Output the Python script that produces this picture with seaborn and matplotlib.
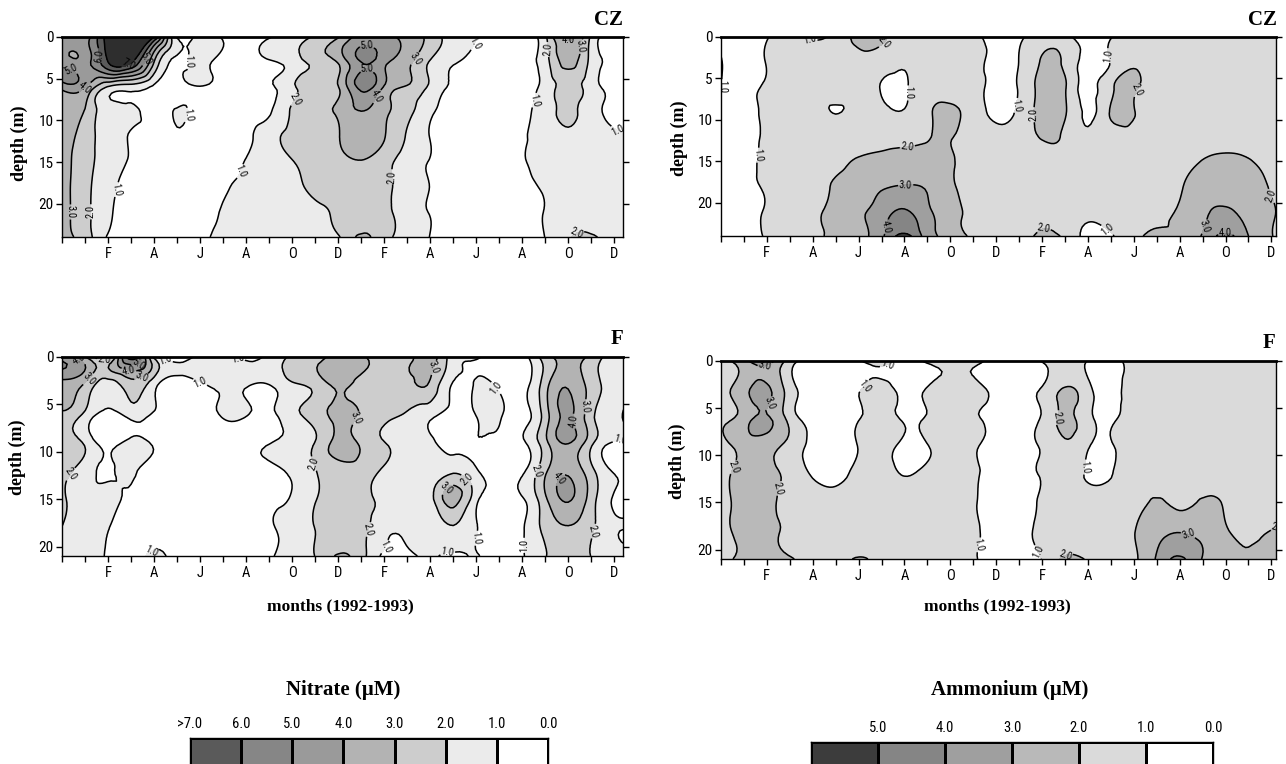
import numpy as np
import matplotlib
matplotlib.use("Agg")
import matplotlib.pyplot as plt
import matplotlib.tri as mtri
from matplotlib.colors import ListedColormap
from matplotlib import font_manager as fm
import seaborn as sns

sns.set_style("ticks")


def pick(fams):
    for f in fams:
        try:
            fm.findfont(fm.FontProperties(family=f), fallback_to_default=False)
            return f
        except Exception:
            pass
    return "DejaVu Sans"


SANS = pick(["Liberation Sans Narrow", "DejaVu Sans Condensed", "Roboto Condensed", "Liberation Sans"])
SERIF = pick(["Liberation Serif", "DejaVu Serif"])
plt.rcParams["font.family"] = [SANS, "DejaVu Sans"]
for key in ["text.color", "axes.labelcolor", "xtick.color", "ytick.color", "axes.edgecolor"]:
    plt.rcParams[key] = "black"

# ---------------- data ----------------
# month index: 0 = Dec 1991, 2 = Feb 1992 ... 24 = Dec 1993
month_pos = [0, 1, 2, 3, 4, 5, 6, 7, 8, 9, 10, 11, 12, 13, 14, 15, 16, 17, 18, 19, 20, 21, 22, 23, 24, 24.4]
month_labels = ["F", "A", "J", "A", "O", "D", "F", "A", "J", "A", "O", "D"]
depth_cz = [0, 3, 6, 9, 12, 15, 18, 21, 24]
depth_f = [0, 3, 6, 9, 12, 15, 18, 21]

nitrate_cz = [
    [4.5, 4.5, 7.6, 8.0, 7.0, 0.9, 1.4, 0.9, 0.5, 0.95, 1.5, 2.15, 2.9, 4.4, 4.3, 3.6, 2.7, 1.4, 1.05, 0.5, 0.6, 1.8, 4.5, 1.8, 0.7, 0.6],
    [4.5, 4.5, 7.0, 7.2, 3.0, 0.8, 1.2, 0.6, 0.5, 0.9, 1.4, 2.3, 3.1, 5.0, 4.3, 3.3, 1.9, 1.1, 0.6, 0.5, 0.6, 1.6, 3.4, 1.7, 0.7, 0.6],
    [4.4, 4.05, 1.9, 1.5, 0.8, 0.5, 0.95, 0.5, 0.5, 0.8, 1.8, 2.5, 2.95, 5.3, 3.9, 2.9, 1.8, 0.8, 0.5, 0.5, 0.6, 1.4, 2.3, 1.5, 0.7, 0.6],
    [3.9, 2.9, 1.5, 1.3, 0.6, 1.1, 0.5, 0.5, 0.6, 0.9, 2.15, 2.6, 3.2, 3.95, 3.2, 2.3, 1.2, 0.6, 0.5, 0.5, 0.8, 1.5, 2.2, 1.4, 0.8, 0.7],
    [3.6, 2.5, 1.5, 0.9, 0.5, 0.8, 0.5, 0.5, 0.8, 1.6, 2.3, 2.6, 2.95, 3.5, 3.05, 1.9, 0.98, 0.6, 0.5, 0.6, 0.9, 1.4, 1.7, 1.5, 1.1, 1.05],
    [3.4, 2.4, 1.5, 0.9, 0.5, 0.5, 0.5, 0.6, 1.05, 1.5, 1.95, 2.5, 2.8, 2.95, 2.4, 1.5, 0.95, 0.5, 0.5, 0.5, 0.9, 1.3, 1.5, 1.4, 1.3, 1.2],
    [3.4, 2.3, 1.3, 0.7, 0.5, 0.5, 0.6, 0.9, 1.2, 1.5, 1.8, 2.2, 2.5, 2.6, 2.2, 1.6, 0.98, 0.5, 0.5, 0.5, 0.8, 1.1, 1.4, 1.4, 1.3, 1.2],
    [3.4, 2.3, 1.2, 0.5, 0.5, 0.5, 0.75, 1.05, 1.3, 1.4, 1.6, 1.8, 2.2, 2.6, 2.3, 1.5, 0.95, 0.5, 0.5, 0.5, 0.6, 1.05, 1.6, 1.5, 1.3, 1.2],
    [3.4, 2.5, 0.9, 0.5, 0.5, 0.5, 0.8, 1.2, 1.3, 1.2, 1.4, 1.5, 1.9, 3.2, 2.3, 1.6, 0.98, 0.5, 0.5, 0.5, 0.6, 1.02, 1.9, 2.2, 1.3, 1.2],
]

ammonium_cz = [
    [0.6, 0.6, 0.95, 1.3, 0.85, 1.3, 2.3, 2.2, 1.4, 1.4, 1.4, 1.2, 0.6, 0.8, 1.6, 1.3, 0.6, 0.95, 1.4, 1.5, 1.4, 1.5, 1.5, 1.5, 1.5, 1.5],
    [1.05, 0.6, 1.05, 1.5, 1.4, 1.5, 1.7, 1.5, 1.1, 1.5, 1.5, 1.3, 0.7, 1.02, 2.1, 1.8, 0.6, 1.05, 1.9, 1.5, 1.5, 1.5, 1.5, 1.5, 1.5, 1.5],
    [1.05, 0.6, 1.2, 1.5, 1.5, 1.5, 1.5, 0.95, 0.9, 1.5, 1.5, 1.3, 0.7, 1.1, 2.4, 2.1, 0.7, 1.8, 2.2, 1.5, 1.5, 1.5, 1.5, 1.5, 1.5, 1.5],
    [0.6, 0.6, 1.2, 1.5, 1.5, 0.95, 1.5, 1.3, 1.05, 1.8, 2.2, 1.5, 0.8, 1.2, 2.4, 2.1, 0.8, 2.1, 2.05, 1.5, 1.5, 1.5, 1.5, 1.5, 1.5, 1.5],
    [0.6, 0.6, 1.2, 1.5, 1.5, 1.6, 1.6, 1.6, 1.7, 1.95, 2.05, 1.6, 1.3, 1.4, 2.1, 1.8, 1.2, 1.6, 1.5, 1.5, 1.5, 1.5, 1.5, 1.5, 1.5, 1.5],
    [0.6, 0.6, 1.3, 1.5, 1.6, 1.8, 2.1, 2.3, 2.4, 2.3, 2.1, 1.6, 1.5, 1.5, 1.5, 1.5, 1.5, 1.5, 1.5, 1.5, 1.6, 2.05, 2.3, 2.1, 1.6, 1.5],
    [0.6, 0.6, 1.2, 1.5, 1.7, 2.1, 2.5, 2.9, 3.05, 2.9, 2.2, 1.6, 1.5, 1.5, 1.5, 1.5, 1.5, 1.5, 1.5, 1.6, 1.9, 2.5, 2.7, 2.5, 1.9, 1.7],
    [0.6, 0.6, 1.1, 1.5, 1.8, 2.3, 2.8, 3.5, 4.1, 3.2, 2.4, 1.7, 1.5, 1.5, 1.8, 1.5, 1.2, 1.5, 1.6, 1.8, 2.1, 2.8, 3.1, 2.7, 2.1, 1.9],
    [0.6, 0.6, 1.1, 1.5, 1.8, 2.2, 2.6, 3.8, 5.3, 3.5, 2.6, 1.8, 1.2, 1.5, 2.2, 1.8, 0.7, 0.9, 1.7, 2.3, 2.05, 3.1, 4.3, 3.0, 2.05, 1.7],
]

nitrate_f = [
    [4.5, 3.1, 1.5, 6.5, 1.8, 0.3, 1.3, 1.2, 0.6, 1.3, 2.2, 2.5, 3.3, 3.1, 2.6, 2.8, 3.4, 1.4, 1.1, 0.6, 0.6, 2.5, 3.5, 2.7, 1.5, 1.4],
    [3.5, 2.8, 1.4, 2.5, 1.3, 0.4, 0.8, 1.3, 1.1, 0.95, 1.8, 2.3, 3.2, 2.6, 2.5, 2.6, 2.8, 0.9, 1.1, 0.8, 0.6, 2.6, 3.9, 2.6, 1.5, 1.3],
    [2.8, 1.8, 0.7, 1.4, 0.9, 0.5, 0.5, 1.15, 1.1, 0.8, 1.7, 2.5, 3.3, 2.9, 2.3, 1.9, 1.3, 0.6, 1.05, 1.15, 0.6, 2.5, 4.2, 2.3, 1.3, 0.95],
    [2.5, 1.8, 0.6, 1.3, 0.8, 0.5, 0.5, 0.5, 0.5, 0.9, 1.4, 2.02, 3.3, 2.8, 2.02, 1.6, 1.2, 0.6, 0.95, 0.5, 0.8, 2.7, 4.1, 2.3, 0.95, 0.8],
    [2.3, 1.5, 0.85, 1.2, 0.5, 0.5, 0.5, 0.5, 0.5, 0.7, 1.2, 1.95, 2.6, 2.5, 1.9, 1.5, 1.4, 1.8, 1.1, 0.5, 0.8, 2.8, 3.8, 2.3, 0.9, 0.8],
    [2.2, 1.4, 1.2, 0.8, 0.5, 0.5, 0.5, 0.5, 0.5, 0.8, 1.1, 1.95, 2.4, 2.3, 1.8, 1.3, 1.6, 3.4, 1.3, 0.5, 0.9, 2.8, 4.1, 2.5, 0.9, 0.8],
    [1.98, 1.3, 1.05, 0.5, 0.7, 0.5, 0.5, 0.5, 0.5, 0.9, 1.3, 2.02, 2.4, 2.3, 1.3, 1.2, 1.4, 1.9, 1.05, 0.5, 0.9, 2.3, 2.9, 2.2, 1.1, 1.02],
    [1.8, 1.3, 0.95, 0.5, 1.3, 0.5, 0.5, 0.5, 0.5, 0.9, 1.4, 2.02, 3.1, 2.4, 0.8, 0.8, 1.1, 0.8, 1.05, 0.5, 0.9, 1.95, 2.7, 1.98, 1.3, 1.2],
]

ammonium_f = [
    [1.5, 2.7, 3.4, 1.5, 0.7, 0.9, 0.9, 1.5, 0.6, 1.2, 1.5, 1.4, 0.6, 0.6, 1.05, 1.5, 0.95, 0.6, 1.3, 1.4, 1.5, 1.5, 1.5, 1.5, 1.5, 1.5],
    [1.5, 2.7, 3.2, 1.5, 0.6, 0.6, 0.9, 1.5, 0.6, 1.1, 1.5, 1.5, 0.6, 0.6, 1.1, 2.1, 1.3, 0.6, 1.5, 1.5, 1.5, 1.5, 1.5, 1.5, 1.5, 1.5],
    [1.5, 2.5, 3.1, 1.6, 0.6, 0.5, 0.9, 1.5, 0.8, 1.1, 1.5, 1.2, 0.6, 0.6, 1.1, 2.2, 1.3, 0.8, 1.5, 1.5, 1.5, 1.5, 1.5, 1.5, 1.5, 1.5],
    [1.5, 2.4, 2.4, 1.7, 0.7, 0.5, 1.05, 1.5, 0.7, 0.95, 1.5, 1.2, 0.6, 0.7, 1.1, 1.8, 1.1, 0.9, 1.5, 1.5, 1.5, 1.5, 1.5, 1.5, 1.5, 1.5],
    [1.5, 2.4, 2.3, 1.7, 0.9, 0.7, 1.3, 1.5, 0.95, 1.3, 1.5, 1.2, 0.6, 0.7, 1.1, 1.5, 0.9, 0.95, 1.5, 1.6, 1.6, 1.5, 1.5, 1.5, 1.5, 1.5],
    [1.5, 2.4, 2.3, 1.6, 1.4, 1.4, 1.5, 1.5, 1.5, 1.5, 1.5, 1.1, 0.6, 0.7, 1.1, 1.5, 1.5, 1.5, 1.6, 2.1, 1.8, 2.1, 1.9, 1.5, 1.5, 1.5],
    [1.5, 2.4, 2.3, 1.8, 1.5, 1.5, 1.5, 1.5, 1.5, 1.5, 1.5, 1.2, 0.6, 0.7, 1.2, 1.5, 1.5, 1.5, 1.95, 2.6, 2.9, 2.6, 2.1, 1.7, 2.02, 2.1],
    [1.5, 2.3, 2.4, 2.1, 1.5, 1.5, 2.1, 1.7, 1.5, 1.5, 1.5, 1.1, 0.6, 0.7, 1.02, 2.2, 1.9, 1.2, 1.8, 3.1, 4.2, 2.95, 2.1, 2.05, 2.4, 2.4],
]

nitrate_levels = [-10, 1, 2, 3, 4, 5, 6, 7, 50]
nitrate_colors = ["#ffffff", "#ebebeb", "#cdcdcd", "#b3b3b3", "#9a9a9a", "#868686", "#5a5a5a", "#2e2e2e"]
ammonium_levels = [-10, 1, 2, 3, 4, 5, 50]
ammonium_colors = ["#ffffff", "#dadada", "#b9b9b9", "#9f9f9f", "#858585", "#3c3c3c"]
nitrate_legend_labels = [">7.0", "6.0", "5.0", "4.0", "3.0", "2.0", "1.0", "0.0"]
ammonium_legend_labels = ["", "5.0", "4.0", "3.0", "2.0", "1.0", "0.0"]

# ---------------- figure ----------------
W, H = 1286, 764
fig = plt.figure(figsize=(W / 100, H / 100), dpi=100)


def add_ax(l, t, r, b):
    return fig.add_axes([l / W, 1 - b / H, (r - l) / W, (b - t) / H])


def draw_panel(ax, z, depths, xmax, ymax, levels, colors):
    X, Y = np.meshgrid(month_pos, depths)
    tri = mtri.Triangulation(X.ravel(), Y.ravel())
    refiner = mtri.UniformTriRefiner(tri)
    tri_f, z_f = refiner.refine_field(np.asarray(z, float).ravel(), subdiv=3)
    ax.tricontourf(tri_f, z_f, levels=levels, colors=colors)
    cs = ax.tricontour(tri_f, z_f, levels=levels[1:-1], colors="black", linewidths=1.1)
    ax.clabel(cs, fmt="%.1f", fontsize=7.5, inline=True, inline_spacing=1)
    ax.set_xlim(0, xmax)
    ax.set_ylim(ymax, 0)
    ax.set_xticks(list(range(25)))
    labs = [""] * 25
    for k, lab in enumerate(month_labels):
        labs[2 + 2 * k] = lab
    ax.set_xticklabels(labs)
    ax.set_yticks([0, 5, 10, 15, 20])
    ax.tick_params(axis="x", direction="out", length=4, width=1, labelsize=10.5, pad=3, colors="black")
    ax.tick_params(axis="y", direction="out", length=4, width=1, labelsize=11,
                   left=True, right=True, labelright=False, pad=2, colors="black")
    for s in ["left", "right", "bottom"]:
        ax.spines[s].set_visible(True)
        ax.spines[s].set_linewidth(1.0)
        ax.spines[s].set_color("black")
    ax.spines["top"].set_visible(True)
    ax.spines["top"].set_linewidth(2.0)
    ax.spines["top"].set_color("black")
    ax.grid(False)


ax_tl = add_ax(62, 37, 623, 237)
draw_panel(ax_tl, nitrate_cz, depth_cz, 24.38, 24, nitrate_levels, nitrate_colors)
ax_tr = add_ax(721, 37, 1276, 236)
draw_panel(ax_tr, ammonium_cz, depth_cz, 24.2, 24, ammonium_levels, ammonium_colors)
ax_bl = add_ax(62, 357, 623, 556)
draw_panel(ax_bl, nitrate_f, depth_f, 24.38, 21, nitrate_levels, nitrate_colors)
ax_br = add_ax(721, 361, 1276, 559)
draw_panel(ax_br, ammonium_f, depth_f, 24.2, 21, ammonium_levels, ammonium_colors)


def ftext(x, y, s, **kw):
    fig.text(x / W, 1 - y / H, s, family=[SERIF, "DejaVu Serif"], fontweight="bold",
             color="black", **kw)


# station titles
ftext(623, 20, "CZ", ha="right", va="center", fontsize=15)
ftext(1277, 20, "CZ", ha="right", va="center", fontsize=15)
ftext(623, 339, "F", ha="right", va="center", fontsize=15)
ftext(1275, 343, "F", ha="right", va="center", fontsize=15)

# depth labels
for (x, y) in [(19, 143), (679, 138), (17, 457), (677, 461)]:
    ftext(x, y, "depth (m)", ha="center", va="center", rotation=90, fontsize=13)

# month labels
ftext(340, 606, "months (1992-1993)", ha="center", va="center", fontsize=12.5)
ftext(997, 606, "months (1992-1993)", ha="center", va="center", fontsize=12.5)

# legend titles
ftext(343, 690, "Nitrate (\u00b5M)", ha="center", va="center", fontsize=15)
ftext(1010, 690, "Ammonium (\u00b5M)", ha="center", va="center", fontsize=15)


def legend_bar(l, t, r, b, colors, labels):
    lax = add_ax(l, t, r, b)
    n = len(colors)
    vals = np.array([list(range(n - 1, -1, -1))], dtype=float)
    sns.heatmap(vals, ax=lax, cmap=ListedColormap(colors), vmin=-0.5, vmax=n - 0.5,
                cbar=False, linewidths=1.0, linecolor="black",
                xticklabels=False, yticklabels=False)
    for s in lax.spines.values():
        s.set_visible(True)
        s.set_linewidth(1.0)
        s.set_color("black")
    lax.xaxis.set_ticks_position("top")
    lax.set_xticks(np.arange(n + 1))
    lax.set_xticklabels(labels, fontsize=10.5)
    lax.tick_params(axis="x", length=0, pad=5, top=True, bottom=False,
                    labeltop=True, labelbottom=False, colors="black")
    lax.set_yticks([])


legend_bar(190, 738, 548, 778, nitrate_colors[:7], nitrate_legend_labels)
legend_bar(811, 742, 1213, 782, ammonium_colors, ammonium_legend_labels)

fig.savefig("out.png", dpi=100)
